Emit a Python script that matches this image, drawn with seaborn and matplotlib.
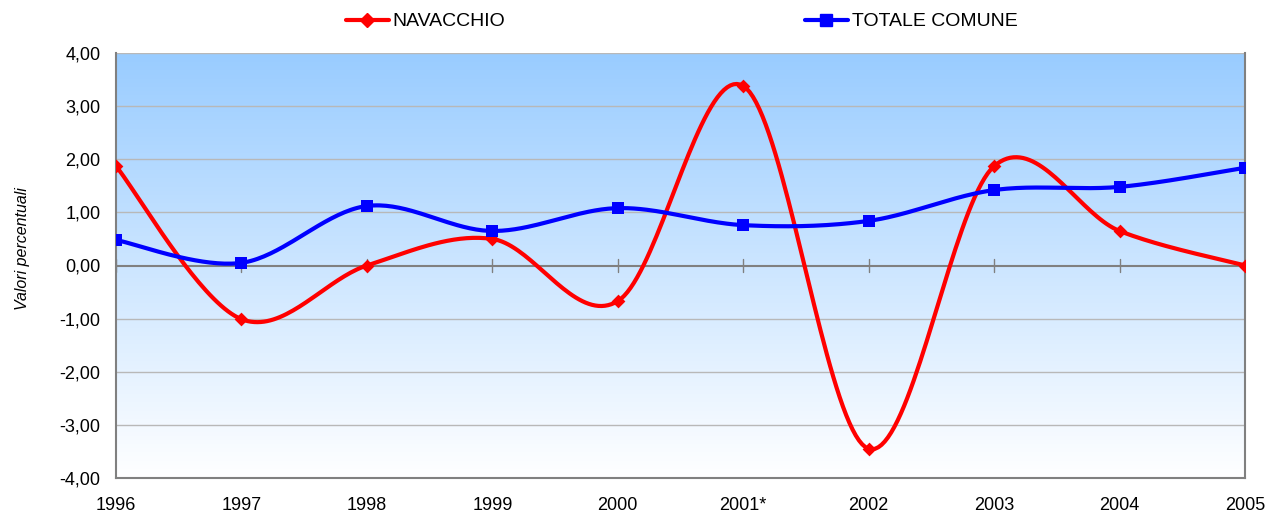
import numpy as np
import pandas as pd
import matplotlib
matplotlib.use('Agg')
import matplotlib.pyplot as plt
import seaborn as sns
from matplotlib.lines import Line2D
from matplotlib.colors import LinearSegmentedColormap

# --- data ---
anni = ['1996', '1997', '1998', '1999', '2000', '2001*', '2002', '2003', '2004', '2005']
navacchio = [1.87, -1.01, 0.00, 0.50, -0.67, 3.38, -3.45, 1.87, 0.65, 0.00]
totale_comune = [0.48, 0.05, 1.12, 0.65, 1.08, 0.76, 0.84, 1.42, 1.48, 1.84]
yticks = [-4, -3, -2, -1, 0, 1, 2, 3, 4]


def smooth(y, n=40):
    # Excel-like smoothed line: cubic bezier with catmull-rom control points
    y = np.asarray(y, dtype=float)
    x = np.arange(len(y), dtype=float)
    pts = np.column_stack([x, y])
    out = []
    t = np.linspace(0, 1, n)
    for i in range(len(pts) - 1):
        p0 = pts[i - 1] if i > 0 else pts[i]
        p1 = pts[i]
        p2 = pts[i + 1]
        p3 = pts[i + 2] if i + 2 < len(pts) else pts[i + 1]
        c1 = p1 + (p2 - p0) / 6
        c2 = p2 - (p3 - p1) / 6
        seg = ((1 - t) ** 3)[:, None] * p1 + (3 * (1 - t) ** 2 * t)[:, None] * c1 \
            + (3 * (1 - t) * t ** 2)[:, None] * c2 + (t ** 3)[:, None] * p2
        out.append(seg if i == 0 else seg[1:])
    return np.vstack(out)


sns.set_style('white')
plt.rcParams['font.family'] = ['Liberation Sans', 'DejaVu Sans']
plt.rcParams['text.color'] = 'black'
plt.rcParams['axes.labelcolor'] = 'black'
plt.rcParams['xtick.color'] = 'black'
plt.rcParams['ytick.color'] = 'black'

fig = plt.figure(figsize=(12.67, 5.16), dpi=100)
ax = fig.add_axes([116 / 1267, 1 - 478 / 516, (1245 - 116) / 1267, (478 - 53) / 516])

# gradient background
cmap = LinearSegmentedColormap.from_list('bg', ['#ffffff', '#99ccff'])
grad = np.linspace(0, 1, 256).reshape(-1, 1)
ax.imshow(grad, aspect='auto', cmap=cmap, origin='lower',
          extent=[0, 1, 0, 1], transform=ax.transAxes, zorder=0)

series = [('NAVACCHIO', navacchio, '#ff0000', 'D', 7),
          ('TOTALE COMUNE', totale_comune, '#0000ff', 's', 9)]
x = np.arange(len(anni))
for name, vals, col, mk, ms in series:
    s = smooth(vals)
    df = pd.DataFrame({'x': s[:, 0], 'y': s[:, 1]})
    sns.lineplot(data=df, x='x', y='y', ax=ax, color=col, lw=3, sort=False,
                 estimator=None, zorder=3)
    sns.scatterplot(x=x, y=vals, ax=ax, color=col, marker=mk, s=ms ** 2,
                    edgecolor=col, linewidth=0, zorder=4)

ax.set_xlim(0, len(anni) - 1)
ax.set_ylim(-4, 4)
ax.set_yticks(yticks)
ax.set_yticklabels([f'{v:.2f}'.replace('.', ',') for v in yticks], fontsize=13)
ax.set_xticks(x)
ax.set_xticklabels(anni, fontsize=13)
ax.tick_params(axis='x', length=0, pad=14)
ax.tick_params(axis='y', length=6, color='#808080', direction='out', pad=5)
for v in yticks:
    if v != 0:
        ax.axhline(v, color='#b8b8b8', lw=1, zorder=1)
ax.axhline(0, color='#808080', lw=1.5, zorder=2)
for xi in x:
    ax.plot([xi, xi], [-0.12, 0.12], color='#808080', lw=1, zorder=2)
for sp in ax.spines.values():
    sp.set_color('#808080')
    sp.set_linewidth(1.5)
ax.spines['top'].set_visible(False)
ax.set_xlabel('')
ax.set_ylabel('Valori percentuali', fontsize=11.5, style='italic')
ax.yaxis.set_label_coords(-0.076, 0.54)

handles = [Line2D([], [], color=c, lw=3, marker=m, markersize=ms) for _, _, c, m, ms in series]
fig.legend(handles, [s[0] for s in series], loc='center', bbox_to_anchor=(0.538, 0.958),
           ncol=2, frameon=False, fontsize=14, columnspacing=15.4, handlelength=2.2,
           handletextpad=0.2)

fig.savefig('out.png', dpi=100)
